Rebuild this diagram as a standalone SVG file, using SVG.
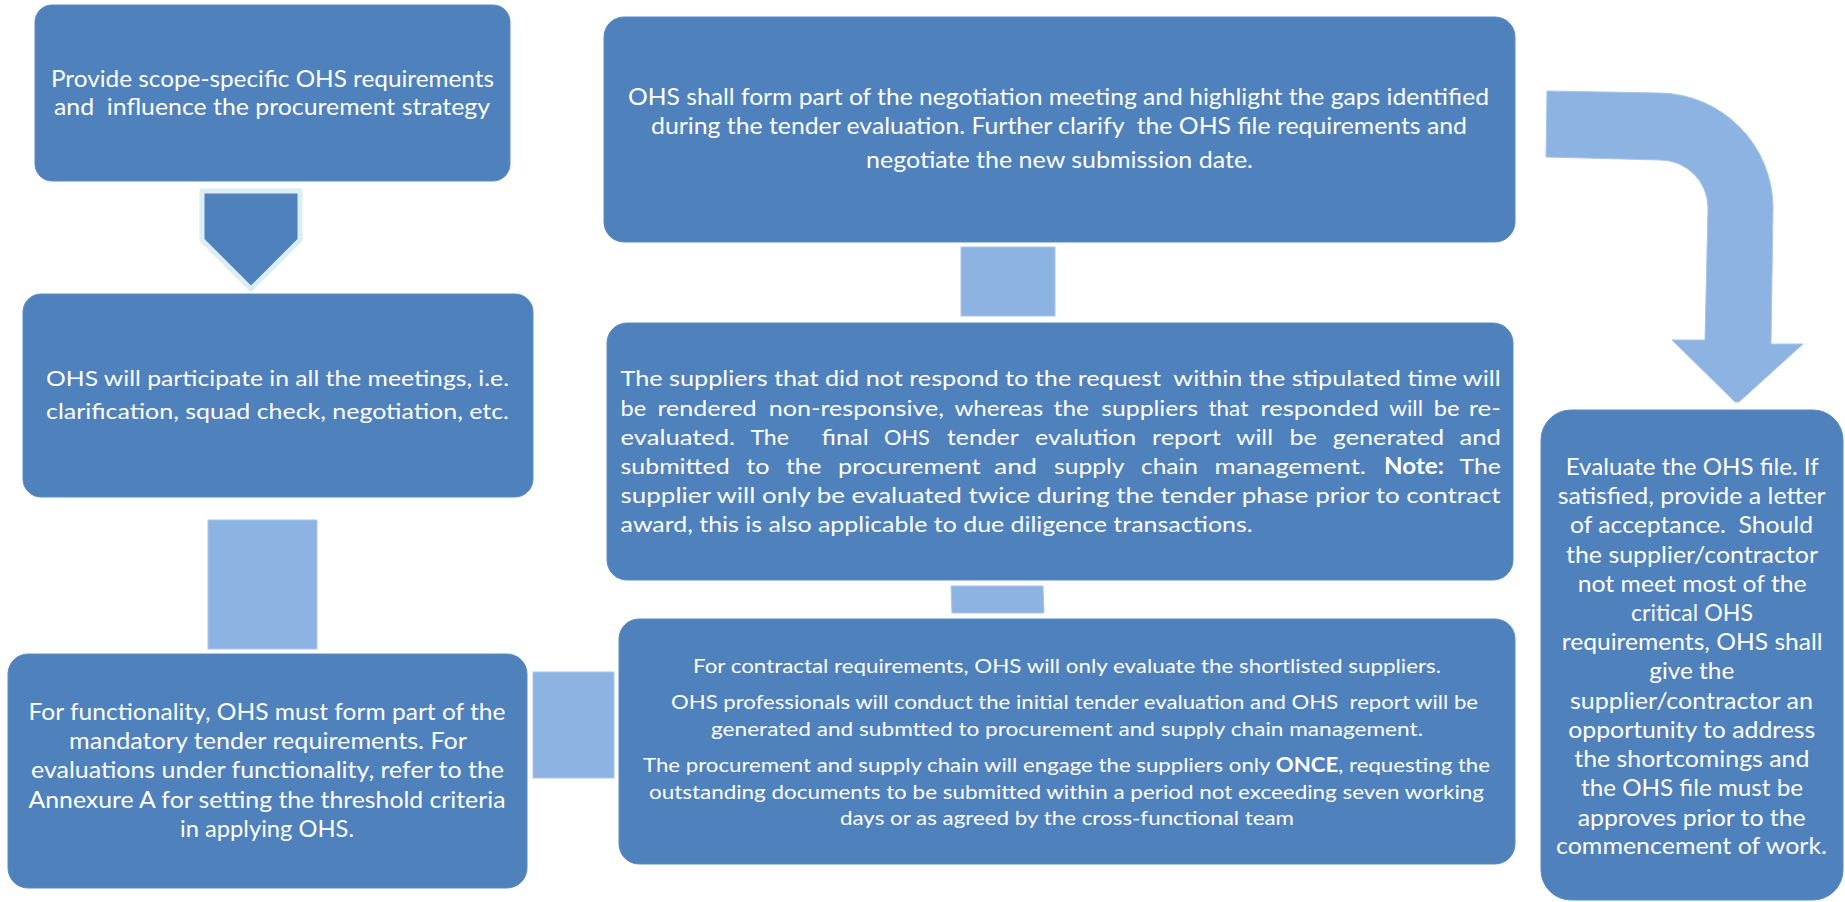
<svg xmlns="http://www.w3.org/2000/svg" width="1845" height="902" viewBox="0 0 1845 902">
<style>
.box{fill:#4f81bd;stroke:#5b8bc4;stroke-width:1}
.conn{fill:#8db3e2;stroke:#a9c5ea;stroke-width:1}
.t{font-family:Lato,"Liberation Sans",sans-serif;fill:#ffffff}
.b1{font-size:23px}.b2{font-size:21px}.b3{font-size:23px}.b4{font-size:23px}.b5{font-size:22px}.b6{font-size:20px}.b7{font-size:23px}
</style>
<rect width="1845" height="902" fill="#ffffff"/>
<g id="connectors">
<polygon points="202,191 300,191 300,240 251,289 202,240" fill="#4f81bd" stroke="#daeef3" stroke-width="5" stroke-linejoin="miter"/>
<rect class="conn" x="208" y="520" width="109" height="129"/>
<rect class="conn" x="533" y="672" width="81" height="106"/>
<rect class="conn" x="961" y="247" width="94" height="69"/>
<polygon class="conn" points="951,586 1043,586 1044,613 952,613"/>
<path class="conn" d="M1547,91 L1660,93 A115,115 0 0 1 1773,208 L1771,344 L1803,344 L1739,402 L1735,402 L1672,340 L1705,340 L1708,208 A48,48 0 0 0 1660,160 L1546,157 Z"/>
</g>
<g id="node1">
<rect class="box" x="35" y="5" width="475" height="176" rx="17"/>
<text class="t b1" x="51" y="87" textLength="443" lengthAdjust="spacingAndGlyphs">Provide scope-specific OHS requirements</text>
<text class="t b1" x="54" y="115" textLength="436" lengthAdjust="spacingAndGlyphs" xml:space="preserve">and  influence the procurement strategy</text>
</g>
<g id="node2">
<rect class="box" x="23" y="294" width="510" height="203" rx="18"/>
<text class="t b2" x="46" y="386" textLength="463" lengthAdjust="spacingAndGlyphs">OHS will participate in all the meetings, i.e.</text>
<text class="t b2" x="46" y="419" textLength="463" lengthAdjust="spacingAndGlyphs">clarification, squad check, negotiation, etc.</text>
</g>
<g id="node3">
<rect class="box" x="8" y="654" width="519" height="234" rx="20"/>
<text class="t b3" x="28.5" y="720" textLength="477" lengthAdjust="spacingAndGlyphs">For functionality, OHS must form part of the</text>
<text class="t b3" x="69" y="749" textLength="398" lengthAdjust="spacingAndGlyphs">mandatory tender requirements. For</text>
<text class="t b3" x="31" y="778" textLength="473" lengthAdjust="spacingAndGlyphs">evaluations under functionality, refer to the</text>
<text class="t b3" x="28.5" y="808" textLength="477" lengthAdjust="spacingAndGlyphs">Annexure A for setting the threshold criteria</text>
<text class="t b3" x="180" y="837" textLength="174" lengthAdjust="spacingAndGlyphs">in applying OHS.</text>
</g>
<g id="node4">
<rect class="box" x="604" y="17" width="911" height="225" rx="20"/>
<text class="t b4" x="628" y="105" textLength="861" lengthAdjust="spacingAndGlyphs">OHS shall form part of the negotiation meeting and highlight the gaps identified</text>
<text class="t b4" x="651" y="133.5" textLength="816" lengthAdjust="spacingAndGlyphs" xml:space="preserve">during the tender evaluation. Further clarify  the OHS file requirements and</text>
<text class="t b4" x="866" y="168" textLength="387" lengthAdjust="spacingAndGlyphs">negotiate the new submission date.</text>
</g>
<g id="node5">
<rect class="box" x="607" y="323" width="906" height="257" rx="20"/>
<text class="t b5" x="620.6" y="386" textLength="880" lengthAdjust="spacingAndGlyphs" xml:space="preserve">The suppliers that did not respond to the request  within the stipulated time will</text>
<text class="t b5" y="416"><tspan x="620.6" textLength="25.7" lengthAdjust="spacingAndGlyphs">be</tspan><tspan x="657.4" textLength="99.2" lengthAdjust="spacingAndGlyphs">rendered</tspan><tspan x="768.8" textLength="175.2" lengthAdjust="spacingAndGlyphs">non-responsive,</tspan><tspan x="954.4" textLength="88.7" lengthAdjust="spacingAndGlyphs">whereas</tspan><tspan x="1053.6" textLength="35.4" lengthAdjust="spacingAndGlyphs">the</tspan><tspan x="1101.3" textLength="96.7" lengthAdjust="spacingAndGlyphs">suppliers</tspan><tspan x="1208.5" textLength="39.7" lengthAdjust="spacingAndGlyphs">that</tspan><tspan x="1260.5" textLength="118.2" lengthAdjust="spacingAndGlyphs">responded</tspan><tspan x="1389.2" textLength="33.8" lengthAdjust="spacingAndGlyphs">will</tspan><tspan x="1433.8" textLength="25.8" lengthAdjust="spacingAndGlyphs">be</tspan><tspan x="1468.7" textLength="32.3" lengthAdjust="spacingAndGlyphs">re-</tspan></text>
<text class="t b5" y="445"><tspan x="620.6" textLength="114.5" lengthAdjust="spacingAndGlyphs">evaluated.</tspan><tspan x="750.4" textLength="38.6" lengthAdjust="spacingAndGlyphs">The</tspan><tspan x="821.5" textLength="47.1" lengthAdjust="spacingAndGlyphs">final</tspan><tspan x="884" textLength="45.9" lengthAdjust="spacingAndGlyphs">OHS</tspan><tspan x="947" textLength="71.7" lengthAdjust="spacingAndGlyphs">tender</tspan><tspan x="1035" textLength="101.2" lengthAdjust="spacingAndGlyphs">evalution</tspan><tspan x="1152" textLength="68.7" lengthAdjust="spacingAndGlyphs">report</tspan><tspan x="1236" textLength="37" lengthAdjust="spacingAndGlyphs">will</tspan><tspan x="1289.4" textLength="27.5" lengthAdjust="spacingAndGlyphs">be</tspan><tspan x="1332.8" textLength="111.4" lengthAdjust="spacingAndGlyphs">generated</tspan><tspan x="1459.5" textLength="41.5" lengthAdjust="spacingAndGlyphs">and</tspan></text>
<text class="t b5" y="474"><tspan x="620.6" textLength="109" lengthAdjust="spacingAndGlyphs">submitted</tspan><tspan x="746.2" textLength="23.2" lengthAdjust="spacingAndGlyphs">to</tspan><tspan x="786" textLength="35.5" lengthAdjust="spacingAndGlyphs">the</tspan><tspan x="838" textLength="142.7" lengthAdjust="spacingAndGlyphs">procurement</tspan><tspan x="994" textLength="43" lengthAdjust="spacingAndGlyphs">and</tspan><tspan x="1054" textLength="70.6" lengthAdjust="spacingAndGlyphs">supply</tspan><tspan x="1141" textLength="57" lengthAdjust="spacingAndGlyphs">chain</tspan><tspan x="1214.6" textLength="151.3" lengthAdjust="spacingAndGlyphs">management.</tspan><tspan x="1384" textLength="60" lengthAdjust="spacingAndGlyphs" font-weight="bold">Note:</tspan><tspan x="1459.5" textLength="41.5" lengthAdjust="spacingAndGlyphs">The</tspan></text>
<text class="t b5" x="620.6" y="503" textLength="880" lengthAdjust="spacingAndGlyphs">supplier will only be evaluated twice during the tender phase prior to contract</text>
<text class="t b5" x="620.6" y="532" textLength="632" lengthAdjust="spacingAndGlyphs">award, this is also applicable to due diligence transactions.</text>
</g>
<g id="node6">
<rect class="box" x="619" y="619" width="896" height="245" rx="20"/>
<text class="t b6" x="693" y="673" textLength="748" lengthAdjust="spacingAndGlyphs">For contractal requirements, OHS will only evaluate the shortlisted suppliers.</text>
<text class="t b6" x="671" y="709" textLength="807" lengthAdjust="spacingAndGlyphs" xml:space="preserve">OHS professionals will conduct the initial tender evaluation and OHS  report will be</text>
<text class="t b6" x="711" y="736" textLength="712" lengthAdjust="spacingAndGlyphs">generated and submtted to procurement and supply chain management.</text>
<text class="t b6" x="643" y="772" textLength="847" lengthAdjust="spacingAndGlyphs">The procurement and supply chain will engage the suppliers only <tspan font-weight="bold">ONCE</tspan>, requesting the</text>
<text class="t b6" x="649" y="799" textLength="835" lengthAdjust="spacingAndGlyphs">outstanding documents to be submitted within a period not exceeding seven working</text>
<text class="t b6" x="840" y="825" textLength="454" lengthAdjust="spacingAndGlyphs">days or as agreed by the cross-functional team</text>
</g>
<g id="node7">
<rect class="box" x="1541" y="410" width="302" height="490" rx="30"/>
<text class="t b7" x="1565.7" y="475" textLength="253" lengthAdjust="spacingAndGlyphs">Evaluate the OHS file. If</text>
<text class="t b7" x="1557.7" y="504" textLength="268" lengthAdjust="spacingAndGlyphs">satisfied, provide a letter</text>
<text class="t b7" x="1570" y="533.3" textLength="243" lengthAdjust="spacingAndGlyphs" xml:space="preserve">of acceptance.  Should</text>
<text class="t b7" x="1566" y="562.7" textLength="252" lengthAdjust="spacingAndGlyphs">the supplier/contractor</text>
<text class="t b7" x="1577.7" y="591.7" textLength="229" lengthAdjust="spacingAndGlyphs">not meet most of the</text>
<text class="t b7" x="1631" y="621" textLength="122" lengthAdjust="spacingAndGlyphs">critical OHS</text>
<text class="t b7" x="1561.7" y="650" textLength="261" lengthAdjust="spacingAndGlyphs">requirements, OHS shall</text>
<text class="t b7" x="1649.3" y="679" textLength="85" lengthAdjust="spacingAndGlyphs">give the</text>
<text class="t b7" x="1570" y="709" textLength="243" lengthAdjust="spacingAndGlyphs">supplier/contractor an</text>
<text class="t b7" x="1568.3" y="737.7" textLength="247" lengthAdjust="spacingAndGlyphs">opportunity to address</text>
<text class="t b7" x="1574.3" y="767" textLength="235" lengthAdjust="spacingAndGlyphs">the shortcomings and</text>
<text class="t b7" x="1581" y="796" textLength="222" lengthAdjust="spacingAndGlyphs">the OHS file must be</text>
<text class="t b7" x="1577.7" y="825.7" textLength="228" lengthAdjust="spacingAndGlyphs">approves prior to the</text>
<text class="t b7" x="1556" y="854.3" textLength="271" lengthAdjust="spacingAndGlyphs">commencement of work.</text>
</g>
</svg>
